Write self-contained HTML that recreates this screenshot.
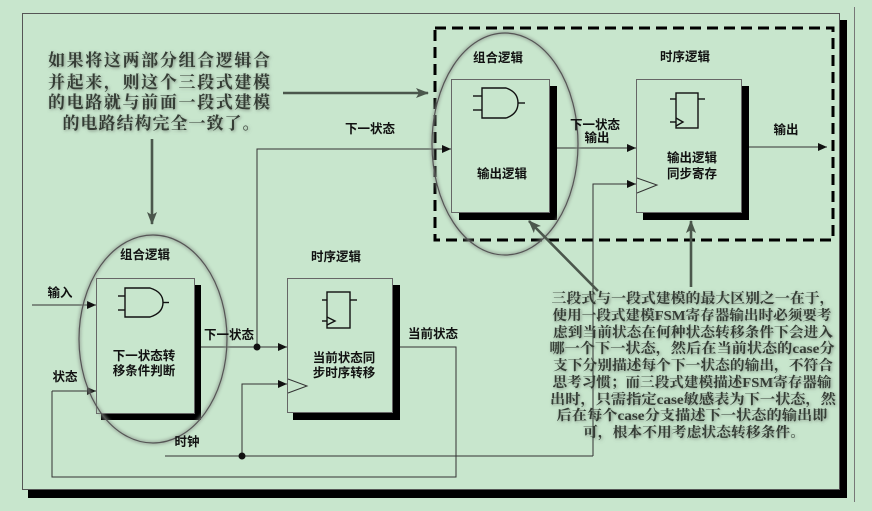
<!DOCTYPE html>
<html><head><meta charset="utf-8"><style>
html,body{margin:0;padding:0;background:#c8e6cd;}
svg{display:block;}
.lb{font-family:"Liberation Sans","Noto Sans CJK SC",sans-serif;font-weight:bold;font-size:12.5px;fill:#111;text-anchor:middle;}
.ann{font-family:"Liberation Serif","Noto Serif CJK SC",serif;font-weight:bold;fill:#343d35;text-anchor:middle;}
</style></head><body>
<svg width="872" height="511" viewBox="0 0 872 511" xmlns="http://www.w3.org/2000/svg">
<defs>
<filter id="tg" x="-5%" y="-20%" width="110%" height="140%">
<feGaussianBlur in="SourceAlpha" stdDeviation="1.6" result="b"/>
<feOffset in="b" dx="1" dy="1" result="o"/>
<feFlood flood-color="#6f7a70" flood-opacity="0.8"/>
<feComposite in2="o" operator="in" result="s"/>
<feMerge><feMergeNode in="s"/><feMergeNode in="SourceGraphic"/></feMerge>
</filter>
<filter id="eb" x="-20%" y="-20%" width="140%" height="140%"><feGaussianBlur stdDeviation="1.5"/></filter>
<marker id="ah" markerWidth="9" markerHeight="8" refX="9" refY="4" orient="auto" markerUnits="userSpaceOnUse"><path d="M0,0 L9,4 L0,8 z" fill="#111"/></marker>
<marker id="ga" markerWidth="13" markerHeight="10" refX="12" refY="5" orient="auto" markerUnits="userSpaceOnUse"><path d="M0,0 L13,5 L0,10 L3,5 z" fill="#4b574c"/></marker>
</defs>
<rect width="872" height="511" fill="#c8e6cd"/>
<!-- outer frame -->
<rect x="840" y="20" width="7" height="478" fill="#000"/>
<rect x="28" y="490" width="819" height="8" fill="#000"/>
<rect x="22.5" y="13.5" width="817" height="476" fill="none" stroke="#555" stroke-width="1"/>
<line x1="854.5" y1="7" x2="854.5" y2="502" stroke="#777" stroke-width="1"/>
<!-- dashed region -->
<rect x="435" y="28" width="398" height="212" fill="none" stroke="#000" stroke-width="3" stroke-dasharray="11 6"/>

<!-- right boxes -->
<rect x="549" y="86" width="8" height="134" fill="#000"/>
<rect x="459" y="212" width="98" height="8" fill="#000"/>
<rect x="451.5" y="79.5" width="98" height="133" fill="#c8e6cd" stroke="#666" stroke-width="1"/>
<rect x="741" y="86" width="8" height="134" fill="#000"/>
<rect x="643" y="212" width="106" height="8" fill="#000"/>
<rect x="636.5" y="79.5" width="105" height="133" fill="#c8e6cd" stroke="#666" stroke-width="1"/>

<!-- left boxes -->
<rect x="194" y="285" width="7" height="135" fill="#000"/>
<rect x="101" y="413" width="100" height="7" fill="#000"/>
<rect x="96.5" y="278.5" width="98" height="135" fill="#c8e6cd" stroke="#666" stroke-width="1"/>
<rect x="392" y="285" width="8" height="135" fill="#000"/>
<rect x="293" y="412" width="107" height="8" fill="#000"/>
<rect x="287.5" y="278.5" width="105" height="134" fill="#c8e6cd" stroke="#666" stroke-width="1"/>

<!-- AND gates -->
<g fill="none" stroke="#111" stroke-width="1.4">
<path d="M482,88 L506,88 Q518,92 518,103 Q518,114 506,118 L482,118 Z"/>
<line x1="473" y1="96" x2="482" y2="96"/><line x1="473" y1="110" x2="482" y2="110"/><line x1="518" y1="103" x2="525" y2="103"/>
<path d="M125,288 L150,288 Q163,292 163,302.5 Q163,313 150,317 L125,317 Z"/>
<line x1="118" y1="296" x2="125" y2="296"/><line x1="118" y1="310" x2="125" y2="310"/><line x1="163" y1="302.5" x2="169" y2="302.5"/>
</g>
<!-- flip flops -->
<g fill="none" stroke="#111" stroke-width="1.4">
<rect x="676" y="93" width="22" height="35"/>
<line x1="670" y1="99" x2="676" y2="99"/><line x1="698" y1="99" x2="705" y2="99"/><line x1="670" y1="122" x2="676" y2="122"/>
<path d="M676,118 L683,122 L676,126"/>
<rect x="327" y="292" width="23" height="36"/>
<line x1="322" y1="300" x2="327" y2="300"/><line x1="350" y1="300" x2="357" y2="300"/><line x1="322" y1="321" x2="327" y2="321"/>
<path d="M327,317 L335,321 L327,325"/>
</g>
<!-- clock triangles -->
<g fill="none" stroke="#333" stroke-width="1">
<path d="M637,178 L657,185 L637,193"/>
<path d="M288,379 L307,386 L288,393"/>
</g>

<!-- signal lines -->
<g fill="none" stroke="#333" stroke-width="1">
<line x1="32" y1="305" x2="96" y2="305" marker-end="url(#ah)"/>
<line x1="52" y1="391" x2="96" y2="391" marker-end="url(#ah)"/>
<polyline points="52,391 52,477 456,477 456,347 400,347"/>
<line x1="201" y1="347" x2="287" y2="347" marker-end="url(#ah)"/>
<polyline points="257,347 257,149 451,149" marker-end="url(#ah)"/>
<line x1="165" y1="456" x2="593" y2="456"/>
<polyline points="242,456 242,384 287,384" marker-end="url(#ah)"/>
<polyline points="593,456 593,184 636,184" marker-end="url(#ah)"/>
<line x1="557" y1="148" x2="636" y2="148" marker-end="url(#ah)"/>
<line x1="749" y1="147" x2="827" y2="147" marker-end="url(#ah)"/>
</g>
<circle cx="257" cy="347" r="3.5" fill="#111"/>
<circle cx="242" cy="456" r="3.5" fill="#111"/>

<!-- ellipses -->
<g fill="none">
<ellipse cx="153" cy="339" rx="74" ry="104" stroke="#8a948b" stroke-width="3.5" filter="url(#eb)" opacity="0.7"/>
<ellipse cx="153" cy="339" rx="74" ry="104" stroke="#555" stroke-width="1.2"/>
<ellipse cx="505" cy="144" rx="73" ry="111" stroke="#8a948b" stroke-width="3.5" filter="url(#eb)" opacity="0.7"/>
<ellipse cx="505" cy="144" rx="73" ry="111" stroke="#555" stroke-width="1.2"/>
</g>

<!-- annotation arrows -->
<g stroke="#4b574c" stroke-width="2.6" fill="none">
<line x1="283" y1="93" x2="428" y2="93" marker-end="url(#ga)"/>
<line x1="152" y1="139" x2="152" y2="224" marker-end="url(#ga)"/>
<line x1="598" y1="291" x2="529" y2="221" marker-end="url(#ga)"/>
<line x1="691" y1="287" x2="691" y2="221" marker-end="url(#ga)"/>
</g>

<!-- labels -->
<text class="lb" x="498" y="62">组合逻辑</text>
<text class="lb" x="685" y="61">时序逻辑</text>
<text class="lb" x="595" y="129">下一状态</text>
<text class="lb" x="597" y="142">输出</text>
<text class="lb" x="786" y="134">输出</text>
<text class="lb" x="502" y="178">输出逻辑</text>
<text class="lb" x="692" y="162">输出逻辑</text>
<text class="lb" x="692" y="178">同步寄存</text>
<text class="lb" x="370" y="133">下一状态</text>
<text class="lb" x="145" y="259">组合逻辑</text>
<text class="lb" x="336" y="261">时序逻辑</text>
<text class="lb" x="60" y="297">输入</text>
<text class="lb" x="65" y="381">状态</text>
<text class="lb" x="229" y="339">下一状态</text>
<text class="lb" x="433" y="338">当前状态</text>
<text class="lb" x="187" y="446">时钟</text>
<text class="lb" x="144" y="360" font-size="13.5">下一状态转</text>
<text class="lb" x="144" y="375" font-size="13.5">移条件判断</text>
<text class="lb" x="344" y="362" font-size="13.5">当前状态同</text>
<text class="lb" x="344" y="377" font-size="13.5">步时序转移</text>

<!-- left annotation -->
<g filter="url(#tg)">
<text class="ann" font-size="17" x="159" y="66" textLength="222" lengthAdjust="spacing">如果将这两部分组合逻辑合</text>
<text class="ann" font-size="17" x="159" y="88" textLength="222" lengthAdjust="spacing">并起来，则这个三段式建模</text>
<text class="ann" font-size="17" x="159" y="108" textLength="222" lengthAdjust="spacing">的电路就与前面一段式建模</text>
<text class="ann" font-size="17" x="161" y="129" textLength="197" lengthAdjust="spacing">的电路结构完全一致了。</text>
</g>
<!-- right annotation -->
<g filter="url(#tg)">
<text class="ann" font-size="14" x="693" y="303" textLength="283" lengthAdjust="spacingAndGlyphs">三段式与一段式建模的最大区别之一在于，</text>
<text class="ann" font-size="14" x="692" y="320" textLength="279" lengthAdjust="spacingAndGlyphs">使用一段式建模FSM寄存器输出时必须要考</text>
<text class="ann" font-size="14" x="693" y="337" textLength="280" lengthAdjust="spacingAndGlyphs">虑到当前状态在何种状态转移条件下会进入</text>
<text class="ann" font-size="14" x="692" y="353" textLength="285" lengthAdjust="spacingAndGlyphs">哪一个下一状态，然后在当前状态的case分</text>
<text class="ann" font-size="14" x="693" y="370" textLength="280" lengthAdjust="spacingAndGlyphs">支下分别描述每个下一状态的输出，不符合</text>
<text class="ann" font-size="14" x="692" y="387" textLength="279" lengthAdjust="spacingAndGlyphs">思考习惯；而三段式建模描述FSM寄存器输</text>
<text class="ann" font-size="14" x="693" y="404" textLength="286" lengthAdjust="spacingAndGlyphs">出时，只需指定case敏感表为下一状态，然</text>
<text class="ann" font-size="14" x="692" y="420" textLength="271" lengthAdjust="spacingAndGlyphs">后在每个case分支描述下一状态的输出即</text>
<text class="ann" font-size="14" x="694" y="437" textLength="222" lengthAdjust="spacingAndGlyphs">可，根本不用考虑状态转移条件。</text>
</g>
</svg>
</body></html>
